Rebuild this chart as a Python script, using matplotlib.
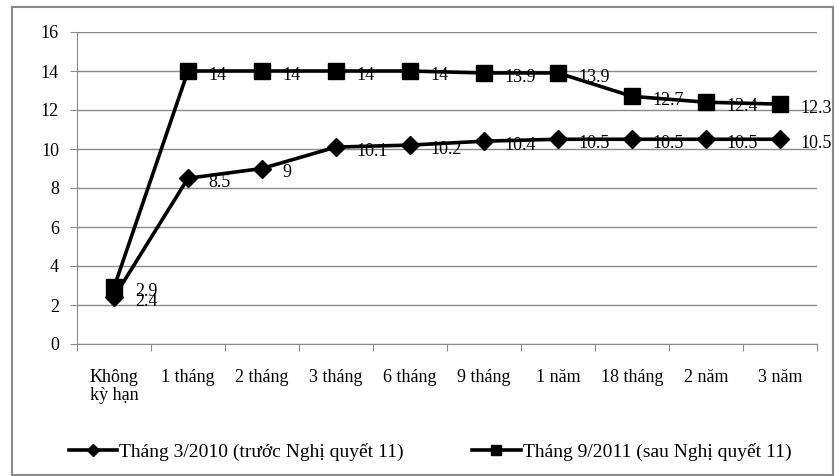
import matplotlib.pyplot as plt
import numpy as np
from matplotlib.patches import Rectangle

plt.rcParams['font.family'] = ['Liberation Serif', 'DejaVu Serif']

# Dữ liệu
categories = ['Không\nkỳ hạn', '1 tháng', '2 tháng', '3 tháng', '6 tháng', '9 tháng',
              '1 năm', '18 tháng', '2 năm', '3 năm']
truoc_nq11 = [2.4, 8.5, 9, 10.1, 10.2, 10.4, 10.5, 10.5, 10.5, 10.5]
sau_nq11 = [2.9, 14, 14, 14, 14, 13.9, 13.9, 12.7, 12.4, 12.3]
label_truoc = 'Tháng 3/2010 (trước Nghị quyết 11)'
label_sau = 'Tháng 9/2011 (sau Nghị quyết 11)'
yticks = [0, 2, 4, 6, 8, 10, 12, 14, 16]

fs = 13

fig = plt.figure(figsize=(8.35, 4.76), dpi=100)
ax = fig.add_axes([77 / 835, 1 - 344 / 476, (817 - 77) / 835, (344 - 32) / 476])

# khung ngoài
fig.patches.append(Rectangle((12 / 835, 0.002), 1 - 12 / 835 - 0.002, 1 - 7 / 476 - 0.002,
                             transform=fig.transFigure, fill=False,
                             edgecolor='#8a8a8a', linewidth=1.5))

x = np.arange(len(categories))
ax.plot(x, truoc_nq11, color='black', lw=2.6, marker='D', markersize=9,
        label=label_truoc, zorder=3)
ax.plot(x, sau_nq11, color='black', lw=2.6, marker='s', markersize=12,
        label=label_sau, zorder=3)

for xi, v in zip(x, truoc_nq11):
    ax.annotate(f'{v:g}', (xi, v), xytext=(15, -3), textcoords='offset points',
                ha='left', va='center', fontsize=fs)
for xi, v in zip(x, sau_nq11):
    ax.annotate(f'{v:g}', (xi, v), xytext=(15, -3), textcoords='offset points',
                ha='left', va='center', fontsize=fs)

ax.set_xlim(-0.5, len(categories) - 0.5)
ax.set_ylim(0, 16)
ax.set_yticks(yticks)
ax.tick_params(axis='y', labelsize=fs, length=5, color='#8a8a8a', pad=8)
ax.yaxis.grid(True, color='#8a8a8a', linewidth=1)
ax.set_axisbelow(True)

ax.set_xticks(np.arange(-0.5, len(categories)), labels=[])
ax.set_xticks(x, labels=categories, minor=True)
ax.tick_params(axis='x', which='major', length=5, color='#8a8a8a')
ax.tick_params(axis='x', which='minor', length=0, labelsize=fs, pad=18)
for lbl in ax.get_xticklabels(minor=True):
    lbl.set_verticalalignment('top')
    lbl.set_linespacing(1.05)

for s in ['top', 'right']:
    ax.spines[s].set_visible(False)
for s in ['left', 'bottom']:
    ax.spines[s].set_color('#8a8a8a')

fig.legend(loc='center', bbox_to_anchor=(430 / 835, 1 - 452 / 476), ncol=2,
           frameon=False, fontsize=14, handlelength=2.5, handletextpad=0.1,
           columnspacing=3.5, markerscale=0.65)

fig.savefig('out.png', dpi=100)
